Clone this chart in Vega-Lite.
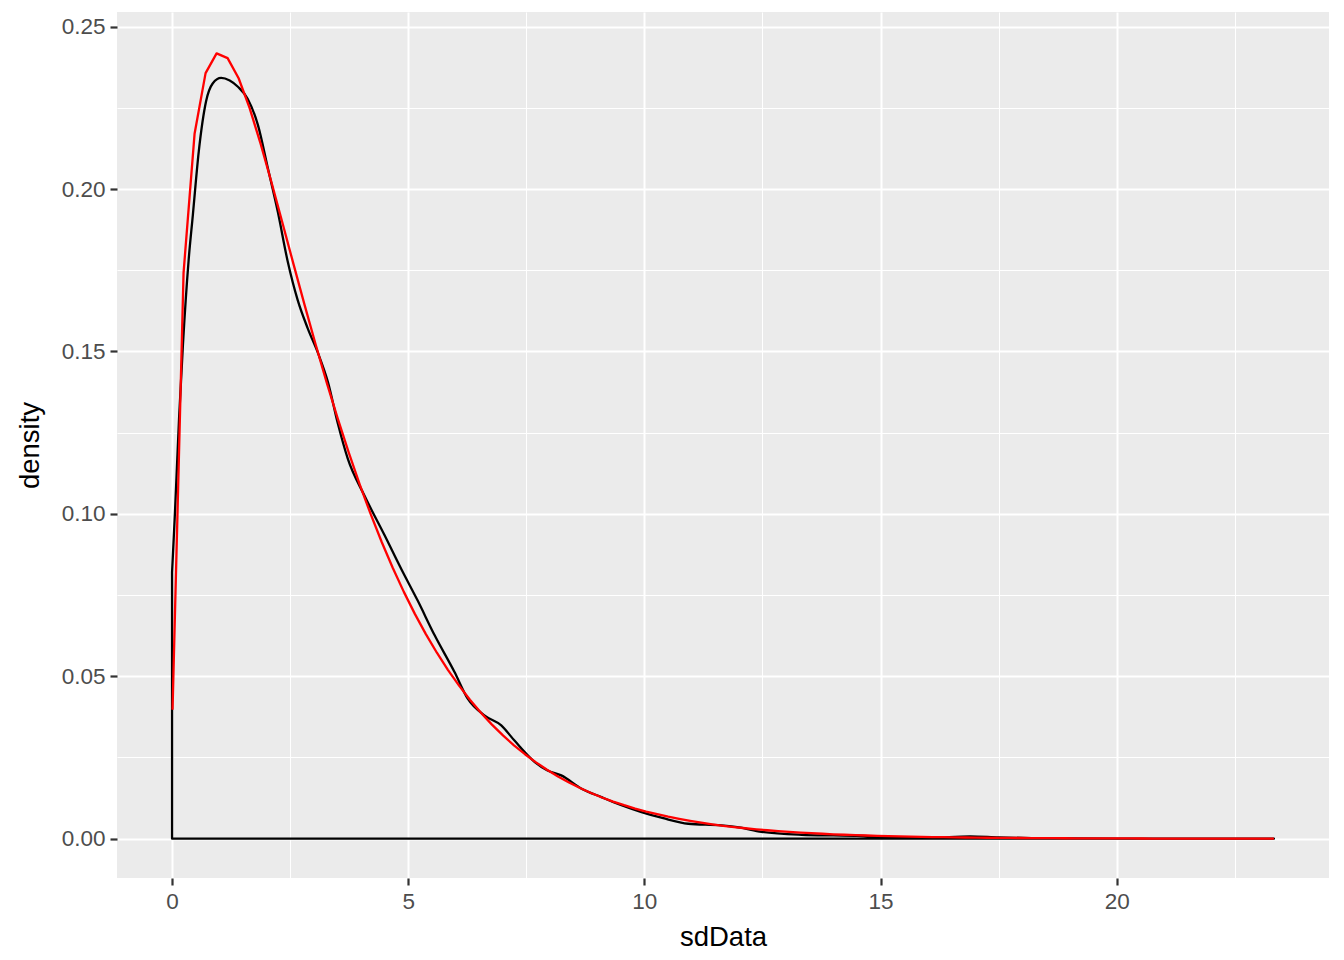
{
  "$schema": "https://vega.github.io/schema/vega-lite/v6.json",
  "width": 1212,
  "height": 866,
  "autosize": {"type": "none"},
  "padding": {"left": 117, "top": 12, "right": 15, "bottom": 82},
  "background": "white",
  "config": {
    "view": {"fill": "#EBEBEB", "stroke": null},
    "axis": {
      "domain": false,
      "grid": true,
      "gridColor": "white",
      "tickColor": "#333333",
      "tickSize": 7,
      "tickWidth": 2.2,
      "labelColor": "#4D4D4D",
      "labelFont": "Liberation Sans",
      "labelFontSize": 22.5,
      "labelPadding": 5,
      "labelFlush": false,
      "labelOverlap": false,
      "titleFont": "Liberation Sans",
      "titleFontSize": 27.5,
      "titleFontWeight": "normal",
      "titleColor": "black"
    }
  },
  "datasets": {
    "kde": [
      {"sdData": 0.0, "density": 0.082},
      {"sdData": 0.06, "density": 0.1},
      {"sdData": 0.15, "density": 0.13},
      {"sdData": 0.23, "density": 0.152},
      {"sdData": 0.35, "density": 0.178},
      {"sdData": 0.44, "density": 0.192},
      {"sdData": 0.565, "density": 0.2115},
      {"sdData": 0.72, "density": 0.227},
      {"sdData": 0.86, "density": 0.2325},
      {"sdData": 1.04, "density": 0.2342},
      {"sdData": 1.22, "density": 0.2334},
      {"sdData": 1.4, "density": 0.2314},
      {"sdData": 1.6, "density": 0.2278},
      {"sdData": 1.82, "density": 0.2196},
      {"sdData": 2.03, "density": 0.2063},
      {"sdData": 2.24, "density": 0.1929},
      {"sdData": 2.45, "density": 0.1776},
      {"sdData": 2.66, "density": 0.1658},
      {"sdData": 2.87, "density": 0.1572},
      {"sdData": 3.09, "density": 0.1495},
      {"sdData": 3.3, "density": 0.1406},
      {"sdData": 3.51, "density": 0.1278},
      {"sdData": 3.72, "density": 0.117},
      {"sdData": 4.07, "density": 0.1057},
      {"sdData": 4.5, "density": 0.0934},
      {"sdData": 4.85, "density": 0.0831},
      {"sdData": 5.2, "density": 0.0733},
      {"sdData": 5.56, "density": 0.0626},
      {"sdData": 5.98, "density": 0.0513},
      {"sdData": 6.26, "density": 0.0431},
      {"sdData": 6.62, "density": 0.0379},
      {"sdData": 6.97, "density": 0.0349},
      {"sdData": 7.25, "density": 0.0302},
      {"sdData": 7.68, "density": 0.0236},
      {"sdData": 7.95, "density": 0.021},
      {"sdData": 8.24, "density": 0.0195},
      {"sdData": 8.67, "density": 0.0154},
      {"sdData": 9.09, "density": 0.0128},
      {"sdData": 9.5, "density": 0.0104},
      {"sdData": 9.94, "density": 0.0082},
      {"sdData": 10.4, "density": 0.0063},
      {"sdData": 10.93, "density": 0.0046},
      {"sdData": 11.63, "density": 0.0041},
      {"sdData": 12.0, "density": 0.0035},
      {"sdData": 12.48, "density": 0.0021},
      {"sdData": 13.33, "density": 0.0012},
      {"sdData": 14.0, "density": 0.001},
      {"sdData": 14.5, "density": 0.0009},
      {"sdData": 15.2, "density": 0.0004},
      {"sdData": 16.0, "density": 0.0003},
      {"sdData": 16.9, "density": 0.0007},
      {"sdData": 17.5, "density": 0.0004},
      {"sdData": 18.2, "density": 0.0002},
      {"sdData": 19.0, "density": 0.0001},
      {"sdData": 20.0, "density": 0.00005},
      {"sdData": 21.0, "density": 0.00003},
      {"sdData": 22.0, "density": 0.00002},
      {"sdData": 23.33, "density": 0.00001}
    ],
    "chisq": [
      {"sdData": 0.01, "density": 0.0397},
      {"sdData": 0.2432, "density": 0.17421},
      {"sdData": 0.4764, "density": 0.217},
      {"sdData": 0.7096, "density": 0.23569},
      {"sdData": 0.9428, "density": 0.24177},
      {"sdData": 1.176, "density": 0.2403},
      {"sdData": 1.4092, "density": 0.23411},
      {"sdData": 1.6424, "density": 0.22491},
      {"sdData": 1.8756, "density": 0.2139},
      {"sdData": 2.1088, "density": 0.20185},
      {"sdData": 2.342, "density": 0.1893},
      {"sdData": 2.5752, "density": 0.17666},
      {"sdData": 2.8084, "density": 0.16417},
      {"sdData": 3.0416, "density": 0.15205},
      {"sdData": 3.2748, "density": 0.1404},
      {"sdData": 3.508, "density": 0.12933},
      {"sdData": 3.7412, "density": 0.11886},
      {"sdData": 3.9744, "density": 0.10902},
      {"sdData": 4.2076, "density": 0.09983},
      {"sdData": 4.4408, "density": 0.09127},
      {"sdData": 4.674, "density": 0.08333},
      {"sdData": 4.9072, "density": 0.07598},
      {"sdData": 5.1404, "density": 0.06921},
      {"sdData": 5.3736, "density": 0.06298},
      {"sdData": 5.6068, "density": 0.05725},
      {"sdData": 5.84, "density": 0.05199},
      {"sdData": 6.0732, "density": 0.04719},
      {"sdData": 6.3064, "density": 0.04279},
      {"sdData": 6.5396, "density": 0.03878},
      {"sdData": 6.7728, "density": 0.03512},
      {"sdData": 7.006, "density": 0.0318},
      {"sdData": 7.2392, "density": 0.02876},
      {"sdData": 7.4724, "density": 0.02601},
      {"sdData": 7.7056, "density": 0.0235},
      {"sdData": 7.9388, "density": 0.02123},
      {"sdData": 8.172, "density": 0.01917},
      {"sdData": 8.4052, "density": 0.0173},
      {"sdData": 8.6384, "density": 0.01561},
      {"sdData": 8.8716, "density": 0.01408},
      {"sdData": 9.1048, "density": 0.01269},
      {"sdData": 9.338, "density": 0.01143},
      {"sdData": 9.5712, "density": 0.01031},
      {"sdData": 9.8044, "density": 0.00928},
      {"sdData": 10.0376, "density": 0.00836},
      {"sdData": 10.2708, "density": 0.00753},
      {"sdData": 10.504, "density": 0.00677},
      {"sdData": 10.7372, "density": 0.00609},
      {"sdData": 10.9704, "density": 0.00548},
      {"sdData": 11.2036, "density": 0.00493},
      {"sdData": 11.4368, "density": 0.00444},
      {"sdData": 11.67, "density": 0.00398},
      {"sdData": 11.9032, "density": 0.00358},
      {"sdData": 12.1364, "density": 0.00322},
      {"sdData": 12.3696, "density": 0.00289},
      {"sdData": 12.6028, "density": 0.0026},
      {"sdData": 12.836, "density": 0.00233},
      {"sdData": 13.0692, "density": 0.00209},
      {"sdData": 13.3024, "density": 0.00188},
      {"sdData": 13.5356, "density": 0.00169},
      {"sdData": 13.7688, "density": 0.00152},
      {"sdData": 14.002, "density": 0.00136},
      {"sdData": 14.2352, "density": 0.00122},
      {"sdData": 14.4684, "density": 0.00109},
      {"sdData": 14.7016, "density": 0.00098},
      {"sdData": 14.9348, "density": 0.00088},
      {"sdData": 15.168, "density": 0.00079},
      {"sdData": 15.4012, "density": 0.00071},
      {"sdData": 15.6344, "density": 0.00064},
      {"sdData": 15.8676, "density": 0.00057},
      {"sdData": 16.1008, "density": 0.00051},
      {"sdData": 16.334, "density": 0.00046},
      {"sdData": 16.5672, "density": 0.00041},
      {"sdData": 16.8004, "density": 0.00037},
      {"sdData": 17.0336, "density": 0.00033},
      {"sdData": 17.2668, "density": 0.00029},
      {"sdData": 17.5, "density": 0.00026},
      {"sdData": 17.7332, "density": 0.00023},
      {"sdData": 17.9664, "density": 0.00021},
      {"sdData": 18.1996, "density": 0.00019},
      {"sdData": 18.4328, "density": 0.00017},
      {"sdData": 18.666, "density": 0.00015},
      {"sdData": 18.8992, "density": 0.00013},
      {"sdData": 19.1324, "density": 0.00012},
      {"sdData": 19.3656, "density": 0.0001},
      {"sdData": 19.5988, "density": 0.00009},
      {"sdData": 19.832, "density": 0.00008},
      {"sdData": 20.0652, "density": 0.00007},
      {"sdData": 20.2984, "density": 0.00007},
      {"sdData": 20.5316, "density": 0.00006},
      {"sdData": 20.7648, "density": 0.00005},
      {"sdData": 20.998, "density": 0.00005},
      {"sdData": 21.2312, "density": 0.00004},
      {"sdData": 21.4644, "density": 0.00004},
      {"sdData": 21.6976, "density": 0.00003},
      {"sdData": 21.9308, "density": 0.00003},
      {"sdData": 22.164, "density": 0.00003},
      {"sdData": 22.3972, "density": 0.00002},
      {"sdData": 22.6304, "density": 0.00002},
      {"sdData": 22.8636, "density": 0.00002},
      {"sdData": 23.0968, "density": 0.00002},
      {"sdData": 23.33, "density": 0.00001}
    ]
  },
  "layer": [
    {
      "data": {"name": "kde"},
      "mark": {"type": "area", "interpolate": "monotone", "fill": "transparent", "fillOpacity": 0, "stroke": "black", "strokeWidth": 2.3, "strokeJoin": "round"},
      "encoding": {
        "x": {
          "field": "sdData",
          "type": "quantitative",
          "scale": {"domain": [-1.166, 24.496], "nice": false, "zero": false},
          "axis": {
            "title": "sdData",
            "values": [0, 2.5, 5, 7.5, 10, 12.5, 15, 17.5, 20, 22.5],
            "labelExpr": "datum.value % 5 === 0 ? format(datum.value, 'd') : ''",
            "gridWidth": {"condition": {"test": "datum.value % 5 === 0", "value": 2}, "value": 1},
            "tickOpacity": {"condition": {"test": "datum.value % 5 === 0", "value": 1}, "value": 0},
            "titlePadding": 11
          }
        },
        "y": {
          "field": "density",
          "type": "quantitative",
          "stack": null,
          "scale": {"domain": [-0.0121, 0.2545], "nice": false, "zero": false},
          "axis": {
            "title": "density",
            "values": [0, 0.025, 0.05, 0.075, 0.1, 0.125, 0.15, 0.175, 0.2, 0.225, 0.25],
            "labelExpr": "round(datum.value * 1000) % 50 === 0 ? format(datum.value, '.2f') : ''",
            "gridWidth": {"condition": {"test": "round(datum.value * 1000) % 50 === 0", "value": 2}, "value": 1},
            "tickOpacity": {"condition": {"test": "round(datum.value * 1000) % 50 === 0", "value": 1}, "value": 0},
            "titlePadding": 17
          }
        },
        "y2": {"datum": 0}
      }
    },
    {
      "data": {"name": "chisq"},
      "mark": {"type": "line", "color": "red", "strokeWidth": 2.3, "strokeJoin": "round"},
      "encoding": {
        "x": {"field": "sdData", "type": "quantitative"},
        "y": {"field": "density", "type": "quantitative"}
      }
    }
  ]
}
